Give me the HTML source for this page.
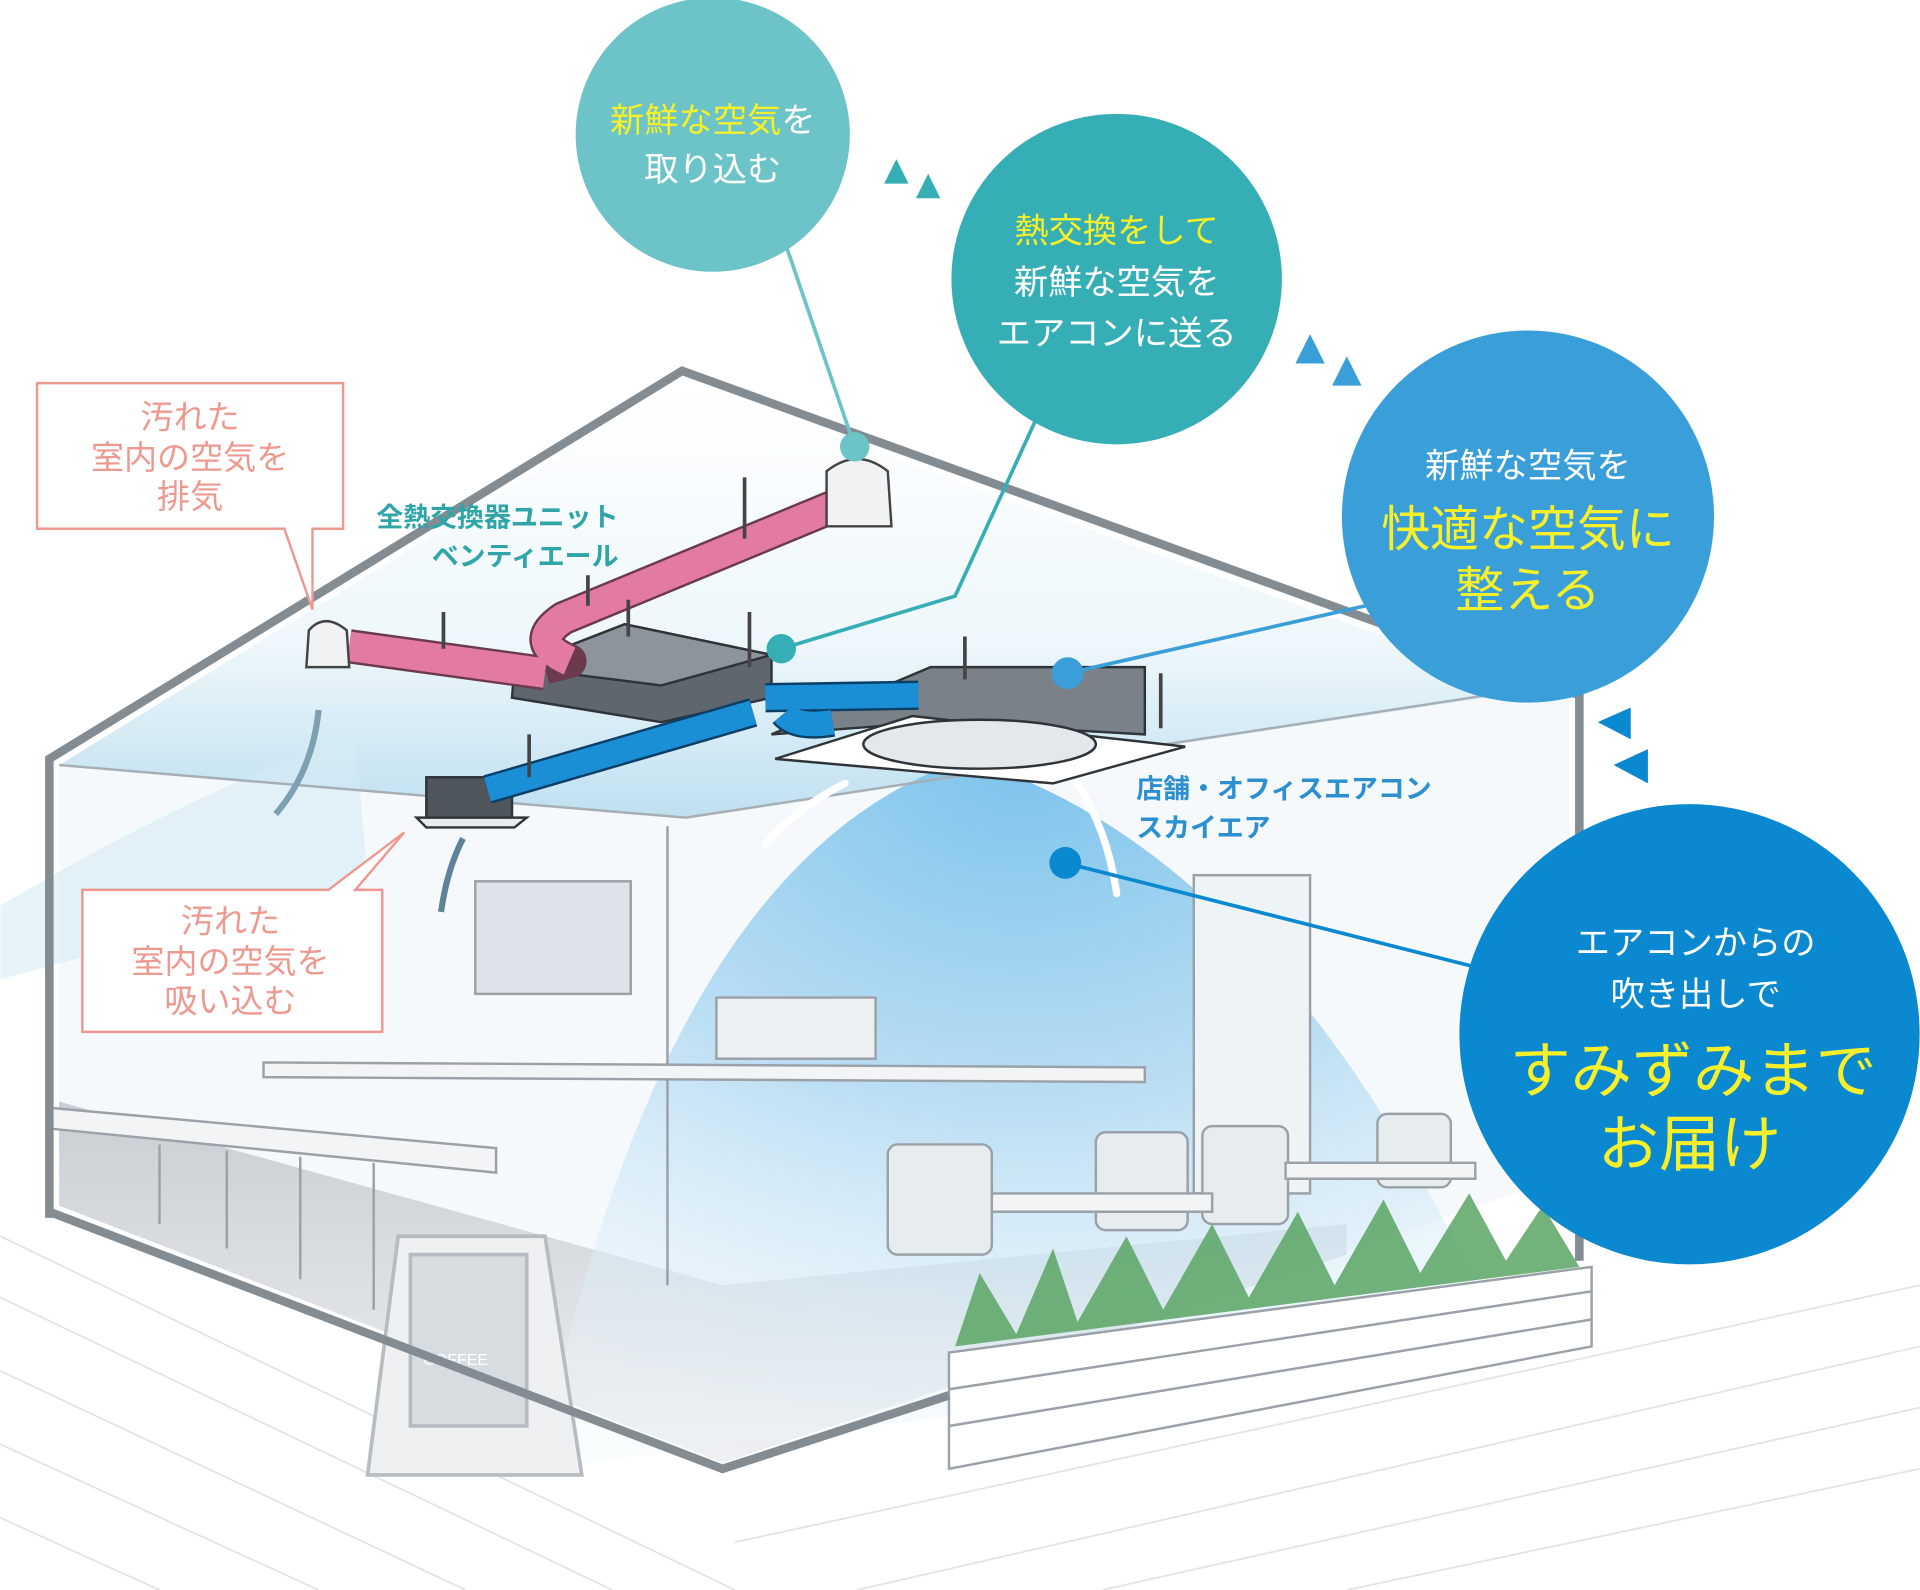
<!DOCTYPE html>
<html><head><meta charset="utf-8"><style>
html,body{margin:0;padding:0;background:#fff;}
svg{display:block;}
text{font-family:"Liberation Sans","Noto Sans CJK JP",sans-serif;}
</style></head><body>
<svg width="1920" height="1590" viewBox="0 0 1568 1299" xmlns="http://www.w3.org/2000/svg">
<defs>
<linearGradient id="ceil" x1="0" y1="0" x2="0" y2="1">
<stop offset="0" stop-color="#fff"/><stop offset="0.6" stop-color="#eef7fb"/><stop offset="1" stop-color="#bfe0f0"/></linearGradient>
<radialGradient id="blow" cx="0.5" cy="0" r="1">
<stop offset="0" stop-color="#6fbdea"/><stop offset="0.5" stop-color="#b6dcf3"/><stop offset="1" stop-color="#eef7fc" stop-opacity="0.3"/></radialGradient>
<linearGradient id="floor" x1="0" y1="0" x2="0" y2="1">
<stop offset="0" stop-color="#c9ced3"/><stop offset="1" stop-color="#eef0f2"/></linearGradient>
</defs>
<!-- floor tiles -->
<g stroke="#e2e4e7" stroke-width="1.5" fill="none">
<path d="M0 1010 L600 1299 M0 1060 L500 1299 M0 1120 L380 1299 M0 1180 L260 1299 M0 1240 L130 1299"/>
<path d="M700 1299 L1568 1100 M900 1299 L1568 1150 M1100 1299 L1568 1200 M600 1260 L1568 1050"/>
</g>
<!-- interior -->
<polygon points="48,625 557,312 1282,575 1282,560 560,668 48,625" fill="url(#ceil)"/>
<polygon points="48,625 560,668 1282,560 1282,960 590,1195 48,985" fill="#f6f9fb"/>
<polygon points="48,985 590,1195 1100,1025 1100,1000 590,1050 48,900" fill="url(#floor)"/>
<!-- blow -->
<path d="M440 1200 Q540 700 790 620 Q1050 700 1230 1100 Z" fill="url(#blow)" opacity="0.9"/>
<path d="M0 740 Q150 650 290 600 L300 720 Q150 760 0 800 Z" fill="#d6ebf5" opacity="0.6"/>
<!-- interior lines -->
<g stroke="#9aa1a8" stroke-width="2" fill="none">
<path d="M545 675 L545 1050"/>
<path d="M215 868 L935 872 L935 884 L215 880 Z" fill="#f2f4f6"/>
<path d="M40 905 L405 938 L405 958 L40 922 Z" fill="#f2f4f6"/>
<rect x="388" y="720" width="127" height="92" fill="#dde3e8"/>
<rect x="975" y="715" width="95" height="260" fill="#eef3f6"/>
<rect x="725" y="935" width="85" height="90" rx="8" fill="#e7ecef"/>
<rect x="895" y="925" width="75" height="80" rx="8" fill="#e7ecef"/>
<rect x="982" y="920" width="70" height="80" rx="8" fill="#e7ecef"/>
<rect x="1125" y="910" width="60" height="60" rx="8" fill="#e7ecef"/>
<path d="M810 975 L990 975 L990 990 L810 990 Z M1050 950 L1205 950 L1205 963 L1050 963 Z" fill="#f2f4f6"/>
<path d="M130 935 L130 1000 M185 940 L185 1020 M245 945 L245 1045 M305 950 L305 1070"/>
<path d="M585 815 L715 815 L715 865 L585 865 Z" fill="#eef1f4"/>
</g>
<!-- sign -->
<g stroke="#b5bcc2" stroke-width="3" fill="#eef0f2">
<polygon points="325,1010 445,1010 475,1205 300,1205"/>
<rect x="335" y="1025" width="95" height="140" fill="#d7dce0"/>
</g>
<text x="372" y="1115" font-size="13" fill="#fff" text-anchor="middle">COFFEE</text>
<!-- planter -->
<g stroke="#9aa1a8" stroke-width="2">
<polygon points="775,1105 1300,1035 1300,1100 775,1200" fill="#fff"/>
<path d="M775 1135 L1300 1055 M775 1165 L1300 1078" fill="none"/>
</g>
<g fill="#5aa564" opacity="0.85">
<path d="M780 1100 L800 1040 L830 1090 L860 1020 L880 1080 L920 1010 L950 1070 L990 1000 L1020 1060 L1060 990 L1090 1050 L1130 980 L1160 1040 L1200 975 L1230 1030 L1260 985 L1290 1035 Z"/>
</g>
<!-- house outline -->
<path d="M40 995 L40 620 L557 303 L1290 568 L1290 1030" fill="none" stroke="#838b93" stroke-width="7"/>
<path d="M40 990 L590 1200 L775 1140" fill="none" stroke="#838b93" stroke-width="7"/>
<path d="M48 625 L560 668 L1280 558" fill="none" stroke="#a7afb6" stroke-width="2"/>
<!-- units -->
<g stroke="#2f3439" stroke-width="2">
<polygon points="418,570 420,545 510,510 630,535 630,570 540,590" fill="#5f666d"/>
<polygon points="420,545 510,510 630,535 540,560" fill="#8d959c"/>
<polygon points="630,600 760,545 935,545 935,600 760,590" fill="#7a8188"/>
<polygon points="633,620 745,585 968,610 860,640" fill="#fff"/>
<ellipse cx="800" cy="608" rx="95" ry="20" fill="#e3e8ec"/>
<rect x="348" y="635" width="70" height="35" fill="#4e555b"/>
<polygon points="340,668 430,668 420,676 348,676" fill="#e8ecef"/>
</g>
<!-- pink ducts (stroked) -->
<g fill="none" stroke-linecap="butt" stroke-linejoin="round">
<path d="M690 410 L460 505 Q430 525 465 540 L445 545 M285 528 L445 550" stroke="#6b3a4c" stroke-width="28"/>
<path d="M690 410 L460 505 Q430 525 465 540 M285 528 L445 550" stroke="#e27aa3" stroke-width="24"/>
</g>
<!-- blue ducts -->
<g fill="none">
<path d="M398 645 L615 582 M625 570 L750 568 M640 583 Q650 595 680 590" stroke="#0c3f66" stroke-width="24"/>
<path d="M398 645 L615 582 M625 570 L750 568 M640 583 Q650 595 680 590" stroke="#1a8fd6" stroke-width="20"/>
</g>
<!-- vents -->
<g stroke="#444" stroke-width="2" fill="#f1f2f3">
<path d="M675 430 L675 385 Q700 365 725 385 L728 430 Z"/>
<path d="M250 545 L252 515 Q265 500 283 515 L285 545 Z"/>
</g>
<g stroke="#444" stroke-width="3">
<path d="M608 390 L608 440 M362 500 L362 530 M480 470 L480 495 M513 490 L513 520 M612 500 L612 545 M788 520 L788 555 M948 550 L948 595 M432 600 L432 635"/>
</g>
<g stroke="#fff" stroke-width="6" fill="none" stroke-linecap="round">
<path d="M690 640 Q650 660 625 690"/><path d="M880 640 Q905 680 912 730"/>
</g>
<path d="M260 580 Q255 630 225 665" stroke="#7fa0b2" stroke-width="5" fill="none"/>
<path d="M360 745 Q365 710 378 685" stroke="#5f8398" stroke-width="5" fill="none"/>
<!-- leader lines -->
<g stroke-width="3" fill="none">
<path d="M640 195 L698 365" stroke="#6cc3c8"/>
<path d="M845 345 L780 487 L638 530" stroke="#36aeb5"/>
<path d="M1115 495 L872 550" stroke="#3a9fd8"/>
<path d="M870 705 L1205 790" stroke="#0a88d0"/>
</g>
<circle cx="698" cy="365" r="12" fill="#6cc3c8"/>
<circle cx="638" cy="530" r="12" fill="#36aeb5"/>
<circle cx="872" cy="550" r="13" fill="#3a9fd8"/>
<circle cx="870" cy="705" r="13" fill="#0a88d0"/>
<g fill="#36aeb5"><polygon points="722,150 732,130 742,150"/><polygon points="748,162 758,142 768,162"/></g>
<g fill="#3a9fd8"><polygon points="1058,297 1070,273 1082,297"/><polygon points="1088,315 1100,291 1112,315"/></g>
<g fill="#0a88d0"><polygon points="1305,590 1332,578 1332,604"/><polygon points="1318,625 1346,612 1346,640"/></g>
<circle cx="582" cy="110" r="112" fill="#6cc3c8"/>
<circle cx="912" cy="228" r="135" fill="#36aeb5"/>
<circle cx="1248" cy="422" r="152" fill="#3a9fd8"/>
<circle cx="1380" cy="845" r="188" fill="#0a88d0"/>
<g text-anchor="middle" font-size="28" fill="#fff">
<text x="582" y="108"><tspan fill="#f6ef2a">新鮮な空気</tspan>を</text>
<text x="582" y="148">取り込む</text>
<text x="912" y="198" fill="#f6ef2a">熱交換をして</text>
<text x="912" y="240">新鮮な空気を</text>
<text x="912" y="282">エアコンに送る</text>
<text x="1248" y="390">新鮮な空気を</text>
<text x="1248" y="446" font-size="40" fill="#f6ef2a">快適な空気に</text>
<text x="1248" y="496" font-size="40" fill="#f6ef2a">整える</text>
<text x="1385" y="780">エアコンからの</text>
<text x="1385" y="822">吹き出しで</text>
<text x="1383" y="892" font-size="50" fill="#f6ef2a">すみずみまで</text>
<text x="1380" y="952" font-size="50" fill="#f6ef2a">お届け</text>
</g>
<g stroke="#ee9990" stroke-width="2" fill="#fff">
<path d="M30 313 L280 313 L280 432 L255 432 L255 498 L232 432 L30 432 Z"/>
<path d="M67 727 L268 727 L330 680 L290 727 L312 727 L312 843 L67 843 Z"/>
</g>
<g text-anchor="middle" font-size="27" fill="#ee9990">
<text x="155" y="350">汚れた</text><text x="155" y="383">室内の空気を</text><text x="155" y="415">排気</text>
<text x="188" y="762">汚れた</text><text x="188" y="795">室内の空気を</text><text x="188" y="827">吸い込む</text>
</g>
<g font-size="22" font-weight="bold">
<text x="505" y="430" text-anchor="end" fill="#2fa5a8">全熱交換器ユニット</text>
<text x="505" y="462" text-anchor="end" fill="#2fa5a8">ベンティエール</text>
<text x="928" y="652" fill="#2b8fd0">店舗・オフィスエアコン</text>
<text x="928" y="684" fill="#2b8fd0">スカイエア</text>
</g>
</svg>
</body></html>
